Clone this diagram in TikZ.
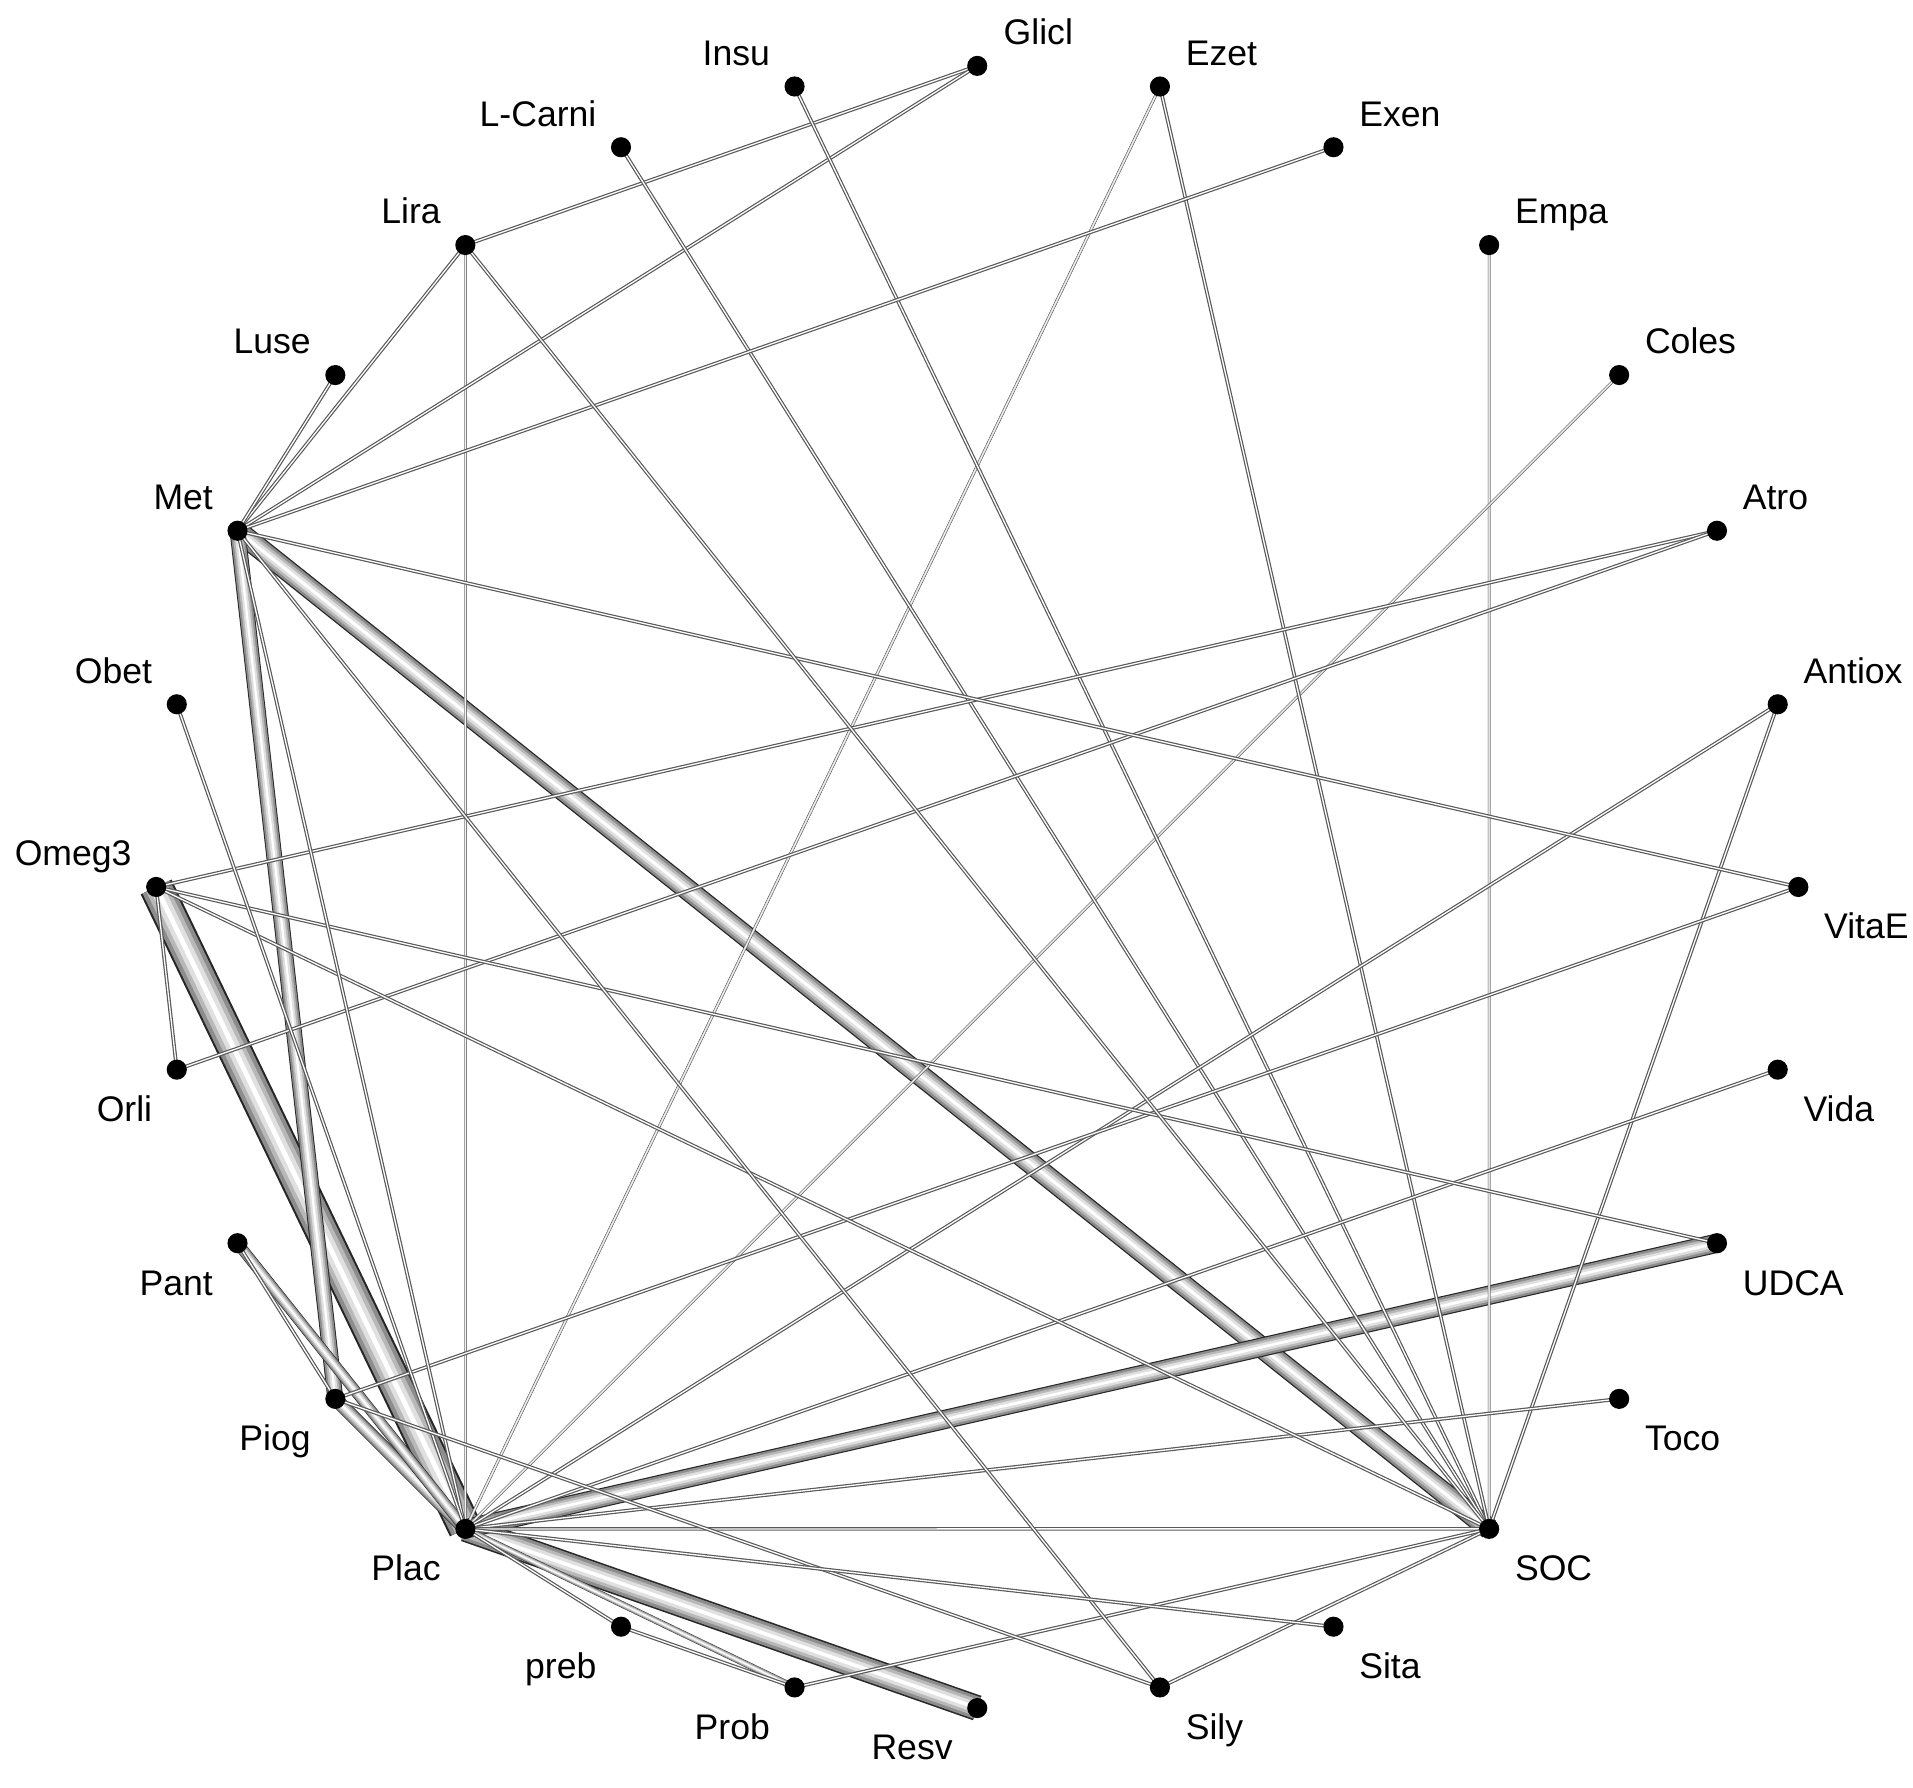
\documentclass[tikz,border=0pt]{standalone}
\usepackage{fontspec}
\setmainfont{Liberation Sans}
\usetikzlibrary{calc}
\pgfdeclarelayer{bg}
\pgfsetlayers{bg,main}

\begin{document}
\begin{tikzpicture}[
    dot/.style={circle, fill=black, inner sep=0pt, minimum size=0.165cm},
    lab/.style={inner sep=0pt, font=\fontsize{8.3}{10}\selectfont},
    tube/.style={draw=black!85, line width=#1pt,
        postaction={draw=black!45, line width=0.88*#1pt},
        postaction={draw=black!28, line width=0.64*#1pt},
        postaction={draw=black!12, line width=0.4*#1pt},
        postaction={draw=white, line width=0.14*#1pt}},
    link/.style={draw=black!65, double=white, line width=0.28pt, double distance=0.3pt}
]
\useasboundingbox (0,0) rectangle (15.68,14.65);
\coordinate (ctr) at (8.01,7.38);

% Nodes on the circle, counter-clockwise from the top
\foreach \n/\t/\h/\dx/\dy [count=\i from 0] in {
    Glicl/Glicl/west/0.21/0.173, Insu/Insu/east/-0.195/0.173,
    LCarni/L-Carni/east/-0.195/0.173, Lira/Lira/east/-0.195/0.173,
    Luse/Luse/east/-0.195/0.173, Met/Met/east/-0.195/0.173,
    Obet/Obet/east/-0.195/0.173, Omeg3/Omeg3/east/-0.195/0.173,
    Orli/Orli/east/-0.195/-0.425, Pant/Pant/east/-0.195/-0.425,
    Piog/Piog/east/-0.195/-0.425, Plac/Plac/east/-0.195/-0.425,
    preb/preb/east/-0.195/-0.425, Prob/Prob/east/-0.195/-0.425,
    Resv/Resv/east/-0.195/-0.425, Sily/Sily/west/0.205/-0.425,
    Sita/Sita/west/0.205/-0.425, SOC/SOC/west/0.205/-0.425,
    Toco/Toco/west/0.205/-0.425, UDCA/UDCA/west/0.205/-0.425,
    Vida/Vida/west/0.205/-0.425, VitaE/VitaE/west/0.205/-0.425,
    Antiox/Antiox/west/0.205/0.173, Atro/Atro/west/0.205/0.173,
    Coles/Coles/west/0.205/0.173, Empa/Empa/west/0.205/0.173,
    Exen/Exen/west/0.205/0.173, Ezet/Ezet/west/0.205/0.173} {
    \node[dot] (\n) at ($(ctr)+({90+\i*360/28}:6.73)$) {};
    \node[lab, anchor=base \h, xshift=\dx cm, yshift=\dy cm] (\n-lab) at (\n) {\t};
}

% Connections, thick ones first
\begin{pgfonlayer}{bg}
\foreach \a/\b/\w in {Omeg3/Plac/8, Plac/Resv/6, Met/SOC/5, Plac/UDCA/4.5,
    Met/Piog/3.7, Piog/Plac/3.2, Pant/Plac/2.6, Plac/Prob/1.5,
    Lira/Plac/0.6, Empa/SOC/0.6, Coles/Plac/0.6, Ezet/Plac/0.65}
    \draw[tube=\w] (\a.center) -- (\b.center);
\foreach \a/\b in {Glicl/Lira, Glicl/Met, Insu/SOC, LCarni/SOC, Ezet/SOC,
    Exen/Met, Atro/Omeg3, Atro/Orli, Antiox/Plac, Antiox/SOC, VitaE/Met,
    VitaE/Piog, Vida/Plac, UDCA/Omeg3, Toco/Plac, Lira/SOC, SOC/Plac,
    SOC/Prob, SOC/Sily, SOC/Omeg3, Lira/Met, Luse/Met, Met/Plac, Met/Sily,
    Obet/Plac, Omeg3/Orli, Pant/Piog, Piog/Sily, Plac/preb, Plac/Sita,
    preb/Prob}
    \draw[link] (\a.center) -- (\b.center);
\end{pgfonlayer}

\end{tikzpicture}
\end{document}
